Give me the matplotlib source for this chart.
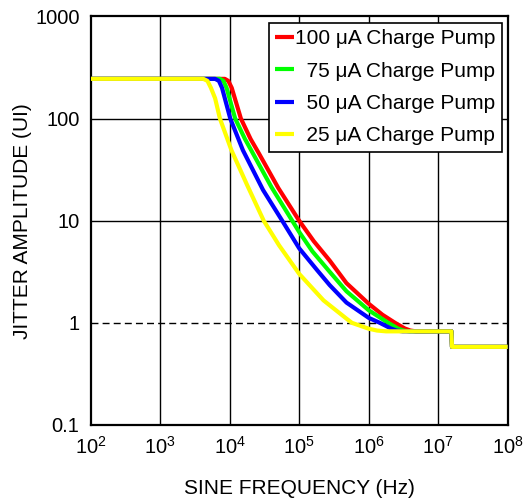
import numpy as np
import matplotlib
matplotlib.use("Agg")
import matplotlib.pyplot as plt

plt.rcParams["font.family"] = ["Liberation Sans", "DejaVu Sans"]
plt.rcParams["mathtext.fontset"] = "custom"
plt.rcParams["mathtext.rm"] = "Liberation Sans"

# ── data (Hz, UI) ───────────────────────────────────────────────────────────
freq_100 = [1e2, 8.51e3, 9.55e3, 1.07e4, 1.45e4, 2.0e4, 2.63e4, 5.01e4, 1.0e5,
            1.62e5, 2.75e5, 4.79e5, 1.0e6, 1.58e6, 2.4e6, 3.31e6, 3.98e6, 4.79e6]
amp_100 = [245, 245, 234, 200, 100, 63.1, 45.7, 20.9, 10.0,
           6.31, 4.07, 2.45, 1.54, 1.20, 1.0, 0.881, 0.841, 0.826]

freq_75 = [1e2, 7.24e3, 8.13e3, 9.02e3, 1.2e4, 1.66e4, 2.04e4, 3.98e4, 7.94e4,
           1.0e5, 1.55e5, 2.75e5, 4.79e5, 1.0e6, 1.91e6, 2.63e6, 3.16e6, 3.89e6]
amp_75 = [245, 245, 234, 200, 100, 63.1, 49.0, 21.4, 10.0,
          7.76, 5.01, 3.16, 2.04, 1.33, 1.0, 0.881, 0.841, 0.826]

freq_50 = [1e2, 6.17e3, 7.0e3, 7.76e3, 1.02e4, 1.55e4, 3.02e4, 5.7e4, 1.0e5,
           1.82e5, 2.75e5, 4.79e5, 1.0e6, 1.45e6, 2.09e6, 2.51e6, 3.09e6]
amp_50 = [245, 245, 234, 200, 100, 49.0, 20.0, 10.0, 5.37,
          3.27, 2.34, 1.58, 1.12, 1.0, 0.881, 0.841, 0.826]

freq_25 = [1e2, 4.17e3, 4.79e3, 5.37e3, 6.17e3, 7.24e3, 1.06e4, 1.78e4, 3.09e4,
           5.13e4, 1.0e5, 2.24e5, 4.79e5, 5.75e5, 1.0e6, 1.32e6, 1.78e6]
amp_25 = [245, 245, 234, 200, 158, 100, 49.0, 22.4, 10.0,
          5.75, 3.02, 1.66, 1.10, 1.0, 0.877, 0.841, 0.826]

# tail shared by all curves: floor, then step down near 15.5 MHz
tail_freq = [1.55e7, 1.58e7, 1e8]
tail_amp = [0.826, 0.582, 0.582]

labels = ["100 \u03bcA Charge Pump", "  75 \u03bcA Charge Pump",
          "  50 \u03bcA Charge Pump", "  25 \u03bcA Charge Pump"]
colors = ["#ff0000", "#00ff00", "#0000ff", "#ffff00"]

x_ticks = [1e2, 1e3, 1e4, 1e5, 1e6, 1e7, 1e8]
y_ticks = [0.1, 1, 10, 100, 1000]
y_tick_labels = ["0.1", "1", "10", "100", "1000"]

# ── figure ──────────────────────────────────────────────────────────────────
fig = plt.figure(figsize=(5.23, 4.99), dpi=100)
ax = fig.add_axes([0.1734, 0.1483, 0.7973, 0.8187])
ax.set_xscale("log")
ax.set_yscale("log")
ax.set_xlim(1e2, 1e8)
ax.set_ylim(0.1, 1000)

for xv in x_ticks[1:-1]:
    ax.axvline(xv, color="black", lw=1.0, zorder=1)
for yv in y_ticks[1:-1]:
    if yv == 1:
        ax.axhline(yv, color="black", lw=1.0, ls=(0, (5, 3)), zorder=1)
    else:
        ax.axhline(yv, color="black", lw=1.0, zorder=1)

series = [(freq_100, amp_100), (freq_75, amp_75),
          (freq_50, amp_50), (freq_25, amp_25)]
for (f, a), lab, c in zip(series, labels, colors):
    f = f + tail_freq
    a = a + tail_amp
    ax.plot(f, a, color=c, lw=3.0, label=lab, zorder=3,
            solid_joinstyle="round", solid_capstyle="butt")

ax.set_xticks(x_ticks)
ax.set_yticks(y_ticks)
ax.set_yticklabels(y_tick_labels)
ax.minorticks_off()
ax.tick_params(length=0, labelsize=14.5)
ax.tick_params(axis="x", pad=8)
ax.tick_params(axis="y", pad=8)
for s in ax.spines.values():
    s.set_linewidth(1.6)

ax.set_xlabel("SINE FREQUENCY (Hz)", fontsize=15, labelpad=15)
ax.set_ylabel("JITTER AMPLITUDE (UI)", fontsize=15, labelpad=2)

leg = ax.legend(loc="upper right", bbox_to_anchor=(0.986, 0.984),
                borderaxespad=0, fontsize=15, handlelength=0.9,
                handletextpad=0.05, borderpad=0.3, labelspacing=0.64,
                fancybox=False, framealpha=1, edgecolor="black")
leg.get_frame().set_linewidth(1.2)
for h in leg.get_lines():
    h.set_linewidth(3.0)

fig.savefig("out.png", dpi=100)
